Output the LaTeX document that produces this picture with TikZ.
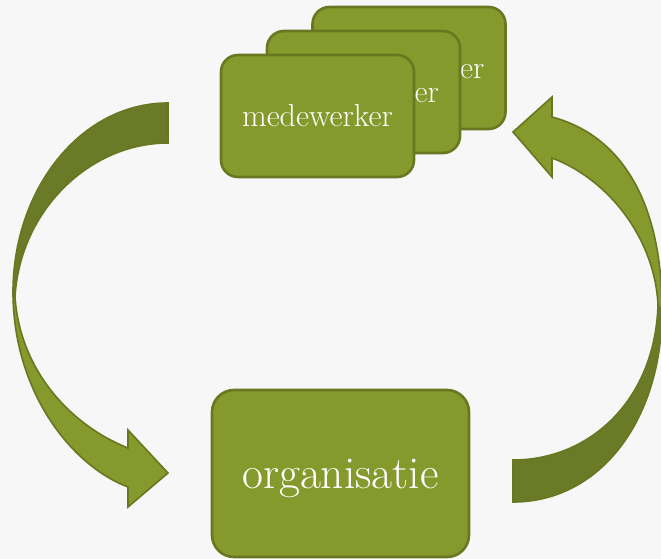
\documentclass[tikz,border=0pt]{standalone}
\usepackage{xcolor}
\definecolor{bg}{RGB}{247,247,247}
\definecolor{boxfill}{RGB}{133,153,45}
\definecolor{boxline}{RGB}{104,120,32}
\definecolor{darkpart}{RGB}{107,122,38}
\tikzset{
  mbox/.style={draw=boxline, line width=2.6pt, fill=boxfill, rounded corners=17pt,
    minimum width=193pt, minimum height=122pt, inner sep=0pt, text=white,
    font=\fontsize{32}{38}\selectfont},
  obox/.style={draw=boxline, line width=2.6pt, fill=boxfill, rounded corners=22pt,
    minimum width=257pt, minimum height=167pt, inner sep=0pt, text=white, text depth=0pt,
    font=\fontsize{45.5}{54}\selectfont},
  lightarrow/.style={draw=boxline, line width=1.6pt, fill=boxfill, line join=miter},
  darkarrow/.style={draw=boxline, line width=1.6pt, fill=darkpart, line join=miter},
}
\begin{document}
\begin{tikzpicture}[x=1pt,y=-1pt]
\fill[bg] (0,0) rectangle (661,559);
\useasboundingbox (0,0) rectangle (661,559);

% left curved arrow: dark back part
\path[darkarrow] (168,103) .. controls (80,103) and (13,190) .. (13,292)
  -- (15,297) .. controls (20,210) and (90,143) .. (168,143) -- cycle;
% left curved arrow: light front part with head
\path[lightarrow] (13,292) .. controls (13,390) and (70,465) .. (128,487)
  -- (128,507) -- (168,473) -- (128,430) -- (128,448)
  .. controls (70,425) and (20,370) .. (15,297) -- cycle;

% right curved arrow: dark back part
\path[darkarrow] (513,502) .. controls (600,502) and (662,420) .. (662,310)
  -- (658,305) .. controls (655,400) and (590,460) .. (513,460) -- cycle;
% right curved arrow: light front part with head
\path[lightarrow] (662,310) .. controls (662,200) and (620,135) .. (552,117)
  -- (552,97) -- (513,132) -- (552,177) -- (552,158)
  .. controls (610,180) and (655,240) .. (658,305) -- cycle;

% stacked employee boxes, back to front
\node[mbox] (m3) at (409,68) {medewerker};
\node[mbox] (m2) at (363.5,92) {medewerker};
\node[mbox] (m1) at (317.5,116) {medewerker};

% organisation box
\node[obox] (org) at (340.5,473.5) {organisatie};
\end{tikzpicture}
\end{document}
